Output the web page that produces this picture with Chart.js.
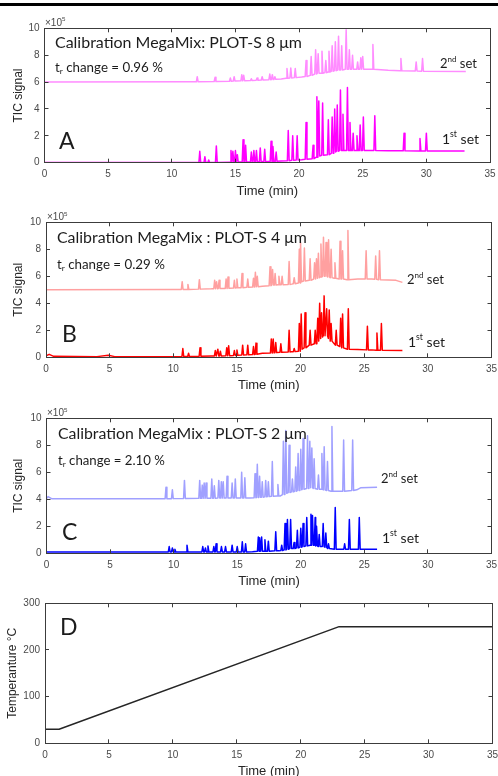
<!DOCTYPE html>
<html><head><meta charset="utf-8">
<script src="https://cdn.jsdelivr.net/npm/chart.js@4.4.1/dist/chart.umd.min.js"></script>
<style>
html,body{margin:0;padding:0;background:#fff;overflow:hidden;width:498px;height:776px;}
#topbar{position:absolute;left:0;top:3px;width:498px;height:3px;background:#000;}
canvas{position:absolute;left:0;}
</style></head><body>
<div id="topbar"></div>
<canvas id="cA"></canvas><canvas id="cB"></canvas><canvas id="cC"></canvas><canvas id="cD"></canvas>
<script>
// ---------- tick labels ----------
const timeTicks = [0, 5, 10, 15, 20, 25, 30, 35];
const ticTicks = [0, 2, 4, 6, 8, 10];          // x10^5
const tempTicks = [0, 100, 200, 300];

// ---------- Panel A (PLOT-S 8 um) ----------  [time, apex, foot]
const a2Baseline = [[0,6.0],[11.5,6.02],[18.6,6.22],[20.2,6.38],[25.4,6.95],[27,6.88],[33.1,6.78]];
const a2Peaks = [[12.0,6.4,6.02],[13.4,6.35,6.04],[14.6,6.3,6.06],[14.9,6.4,6.07],[15.5,6.55,6.09],[15.65,6.5,6.1],
  [16.25,6.25,6.11],[16.7,6.3,6.13],[17.1,6.4,6.15],[17.7,6.6,6.18],[17.9,6.55,6.19],[18.1,6.4,6.2],
  [19.05,7.0,6.28],[19.35,7.05,6.3],[19.7,7.0,6.33],[20.55,7.6,6.42],[20.95,7.9,6.5],[21.3,8.4,6.6],
  [21.5,8.1,6.65],[21.8,8.3,6.65],[22.1,7.6,6.7],[22.35,8.3,6.75],[22.6,8.7,6.8],[22.85,9.0,6.85],
  [23.1,9.4,6.9],[23.35,8.7,6.9],[23.7,9.9,6.95],[23.95,8.4,6.95],[24.2,8.0,6.95],[24.6,7.5,6.95],
  [24.85,7.8,6.95],[25.0,7.9,6.95],[25.8,8.8,6.95],[28.0,7.75,6.85],[29.2,7.5,6.82],[29.7,7.75,6.8]];
const a1Baseline = [[0,0.02],[11.5,0.02],[16.1,0.06],[18.6,0.12],[20.2,0.22],[25.5,0.9],[27,0.88],[33,0.87]];
const a1Peaks = [[12.2,0.85,0.02],[12.6,0.45,0.02],[12.9,0.2,0.02],[13.5,1.25,0.02],[14.65,0.9,0.03],[14.8,0.85,0.05],
  [15.0,0.9,0.05],[15.15,0.6,0.05],[15.6,1.7,0.05],[15.8,1.3,0.06],[16.25,0.8,0.06],[16.45,0.9,0.07],
  [16.65,0.9,0.07],[16.95,1.1,0.08],[17.3,1.0,0.08],[17.8,1.6,0.1],[17.95,1.2,0.1],[18.2,0.8,0.1],
  [19.15,2.4,0.15],[19.5,2.0,0.18],[19.85,2.0,0.2],[20.55,3.0,0.25],[21.1,1.3,0.3],[21.4,4.9,0.4],
  [21.55,4.6,0.5],[21.85,4.45,0.55],[22.3,3.2,0.6],[22.6,3.4,0.7],[22.8,4.0,0.8],[23.0,4.3,0.85],
  [23.25,5.4,0.9],[23.45,3.6,0.9],[23.8,5.6,0.9],[24.0,3.0,0.9],[24.25,2.2,0.9],[24.55,2.0,0.9],
  [24.8,2.8,0.9],[25.05,3.4,0.9],[25.95,3.5,0.9],[28.25,2.2,0.88],[29.5,1.8,0.87],[30.0,2.2,0.87]];

// ---------- Panel B (PLOT-S 4 um) ----------
const b2Baseline = [[0,5.0],[10,5.02],[13,5.07],[17,5.27],[19.3,5.42],[24.5,5.8],[25.6,5.8],[27.5,5.7],[28,5.55]];
const b2Peaks = [[10.7,5.6,5.02],[11.15,5.4,5.03],[12.05,5.75,5.05],[13.25,5.7,5.08],[13.4,5.6,5.08],[13.6,5.7,5.1],
  [14.15,5.8,5.1],[14.3,5.95,5.12],[14.8,5.7,5.13],[15.0,5.8,5.15],[15.4,6.2,5.16],[15.85,5.8,5.18],
  [16.3,5.85,5.2],[16.45,6.3,5.22],[16.6,6.0,5.23],[17.6,6.7,5.3],[17.8,6.5,5.35],[18.0,6.2,5.35],
  [18.3,6.0,5.37],[18.55,6.0,5.38],[19.1,7.1,5.4],[19.5,5.9,5.45],[19.9,8.0,5.5],[20.0,8.5,5.6],
  [20.3,8.1,5.65],[20.75,7.3,5.7],[21.1,7.0,5.8],[21.25,7.3,5.85],[21.4,7.7,5.9],[21.6,8.4,5.95],
  [21.8,8.9,6.0],[22.0,8.5,6.0],[22.2,8.7,5.95],[22.4,8.0,5.9],[22.7,7.0,5.85],[23.1,8.6,5.8],
  [23.3,7.9,5.8],[23.72,9.4,5.75],[25.15,7.9,5.8],[25.9,7.5,5.78],[26.2,7.9,5.75]];
const b1Baseline = [[0,0.1],[0.25,0.22],[0.6,0.07],[4.0,0.05],[4.9,0.15],[5.4,0.05],[10,0.05],[13,0.1],[17,0.3],
  [19.3,0.42],[24.5,0.58],[25.6,0.55],[28,0.5]];
const b1Peaks = [[10.75,0.65,0.06],[11.2,0.3,0.06],[12.1,0.7,0.08],[13.3,0.5,0.1],[13.5,0.6,0.1],[13.7,0.45,0.1],
  [14.2,0.7,0.12],[14.35,0.85,0.12],[14.8,0.5,0.14],[15.0,0.55,0.15],[15.45,0.9,0.17],[15.85,0.9,0.18],
  [16.3,0.8,0.2],[16.5,1.05,0.22],[17.7,1.35,0.32],[17.85,1.35,0.33],[18.05,1.1,0.35],[18.45,1.0,0.37],
  [19.1,2.0,0.4],[19.5,0.65,0.42],[19.9,2.5,0.45],[20.05,3.2,0.6],[20.35,3.3,0.7],[20.75,2.0,0.9],
  [21.15,2.0,1.0],[21.35,2.9,1.2],[21.5,4.0,1.4],[21.65,3.3,1.5],[21.85,4.55,1.6],[22.05,3.6,1.6],
  [22.25,3.5,1.4],[22.4,2.5,1.2],[22.8,2.0,0.9],[23.15,2.9,0.8],[23.3,3.2,0.7],[23.75,3.6,0.6],
  [25.25,2.3,0.55],[26.0,1.8,0.52],[26.35,2.5,0.52]];

// ---------- Panel C (PLOT-S 2 um) ----------
const c2Baseline = [[0,4.05],[0.12,4.2],[0.4,4.05],[9,4.05],[16,4.1],[18.4,4.25],[24.4,4.7],[24.7,4.85],[26,4.9]];
const c2Peaks = [[9.4,4.9,4.05],[9.9,4.7,4.05],[10.85,5.4,4.06],[12.05,5.4,4.07],[12.25,5.05,4.07],[12.4,5.2,4.07],
  [12.55,5.2,4.08],[13.0,5.5,4.08],[13.2,5.0,4.08],[13.55,5.4,4.09],[13.75,5.3,4.09],[13.9,5.3,4.09],
  [14.2,5.7,4.1],[14.6,5.2,4.1],[14.85,5.5,4.1],[15.35,6.0,4.1],[15.6,5.6,4.1],[16.4,5.9,4.12],
  [16.58,6.6,4.13],[16.76,5.7,4.15],[16.97,5.3,4.16],[17.24,5.4,4.18],[17.45,5.3,4.2],[17.76,6.8,4.22],
  [18.2,5.1,4.24],[18.63,8.3,4.35],[18.82,9.1,4.45],[19.08,8.0,4.5],[19.34,5.5,4.55],[19.6,6.4,4.6],
  [19.79,7.4,4.65],[20.0,7.7,4.7],[20.18,8.5,4.75],[20.53,8.7,4.8],[20.71,8.3,4.85],[20.87,7.8,4.85],
  [21.05,7.0,4.8],[21.39,5.8,4.75],[21.66,7.4,4.75],[21.84,7.9,4.7],[22.1,6.8,4.65],[22.45,9.4,4.6],
  [23.37,8.4,4.6],[24.08,8.4,4.65]];
const c1Baseline = [[0,0.1],[9.4,0.1],[16.2,0.12],[18.3,0.18],[24.9,0.3],[26,0.3]];
const c1Peaks = [[9.65,0.5,0.1],[9.9,0.4,0.1],[10.1,0.3,0.1],[11.05,0.6,0.1],[12.29,0.5,0.1],[12.5,0.4,0.1],
  [12.7,0.55,0.1],[13.16,0.5,0.1],[13.34,0.7,0.1],[13.76,0.5,0.1],[14.08,0.5,0.1],[14.6,0.6,0.1],
  [15.0,0.5,0.1],[15.4,0.85,0.1],[15.66,0.7,0.1],[16.66,1.2,0.15],[16.79,1.15,0.15],[16.92,1.2,0.15],
  [17.18,1.0,0.15],[17.45,0.9,0.15],[18.03,1.6,0.18],[18.5,0.6,0.2],[18.76,2.2,0.25],[18.95,2.5,0.3],
  [19.2,2.5,0.35],[19.47,0.8,0.35],[19.73,1.7,0.4],[20.0,1.85,0.45],[20.18,2.2,0.5],[20.47,2.65,0.55],
  [20.8,2.9,0.6],[20.92,2.8,0.6],[21.13,2.65,0.6],[21.24,2.0,0.55],[21.45,1.4,0.5],[21.76,2.2,0.5],
  [21.97,1.5,0.45],[22.18,0.7,0.35],[22.71,3.4,0.3],[23.45,0.7,0.3],[23.82,2.5,0.3],[24.6,2.65,0.3]];

// ---------- Panel D (oven temperature) ----------
const tempTime = [0, 1.1, 23, 35];
const tempValue = [30, 30, 250, 250];

// ---------- helpers ----------
const HW = 0.07;
function buildSeries(baseline, peaks) {
  const pts = baseline.map(([x, y]) => ({x, y}));
  for (const [t, h, f] of peaks) pts.push({x: t - HW, y: f}, {x: t, y: h}, {x: t + HW, y: f});
  pts.sort((a, b) => a.x - b.x);
  return pts;
}
const AX = '"Liberation Sans", Arial, sans-serif';
const TX = 'Lato, "Open Sans", sans-serif';
const FRAME = '#3c3c3c';

function drawRich(ctx, it, top) {
  const fam = it.family || TX;
  let size = it.size;
  const w = s => { let t = 0; for (const [str, m] of it.parts) { ctx.font = (m ? s * 0.62 : s) + 'px ' + fam; t += ctx.measureText(str).width; } return t; };
  if (it.width) size = size * it.width / w(size);
  let x = it.x; const y = it.y - top;
  ctx.textBaseline = 'middle'; ctx.textAlign = 'left'; ctx.fillStyle = it.color || '#1c1c1c';
  for (const [str, m] of it.parts) {
    const fs = m ? size * 0.62 : size;
    ctx.font = fs + 'px ' + fam;
    const dy = m === 'sup' ? -size * 0.33 : (m === 'sub' ? size * 0.28 : 0);
    ctx.fillText(str, x, y + dy);
    x += ctx.measureText(str).width;
  }
}

const decor = {
  id: 'decor',
  afterDraw(chart, args, opts) {
    const ctx = chart.ctx;
    ctx.save();
    for (const it of (opts.texts || [])) drawRich(ctx, it, opts.top);
    ctx.restore();
  }
};

function noPad(s) { s.paddingLeft = 0; s.paddingRight = 0; s.paddingTop = 0; s.paddingBottom = 0; }

function makeChart(id, g, datasets, yTicks, yTitle, yTitlePad, texts) {
  const cv = document.getElementById(id);
  cv.width = 498; cv.height = g.h; cv.style.top = g.top + 'px';
  cv.style.width = '498px'; cv.style.height = g.h + 'px';
  const xh = g.top + g.h - g.bottom;
  const yMin = yTicks[0], yMax = yTicks[yTicks.length - 1];
  const frameBorder = {display: true, color: FRAME, width: 1, z: 1};
  const inTicks = {display: true, drawOnChartArea: false, drawTicks: true, tickLength: -4,
                   color: FRAME, tickColor: FRAME, tickWidth: 1, z: 1};
  const xt = s => { s.ticks = timeTicks.map(v => ({value: v})); };
  const yt = s => { s.ticks = yTicks.map(v => ({value: v})); };
  return new Chart(cv, {
    type: 'line',
    data: {datasets},
    options: {
      responsive: false, animation: false, devicePixelRatio: 1,
      layout: {padding: {left: 0, right: 498 - g.right, top: g.ytop - g.top, bottom: 0}},
      elements: {point: {radius: 0}, line: {tension: 0, borderJoinStyle: 'round'}},
      plugins: {legend: {display: false}, tooltip: {enabled: false}, decor: {texts, top: g.top}},
      scales: {
        x: {type: 'linear', min: 0, max: 35, afterBuildTicks: xt,
          afterFit: s => { s.height = xh; noPad(s); },
          grid: inTicks, border: frameBorder,
          ticks: {color: '#4a4a4a', font: {family: AX, size: 10}, padding: 9.5, maxRotation: 0, autoSkip: false},
          title: {display: true, text: 'Time (min)', color: '#262626', font: {family: AX, size: 13}, padding: {top: 0, bottom: 0}}},
        x2: {type: 'linear', position: 'top', min: 0, max: 35, display: true, afterBuildTicks: xt,
          afterFit: s => { s.height = 0; noPad(s); },
          grid: inTicks, border: frameBorder, ticks: {display: false}},
        y: {type: 'linear', min: yMin, max: yMax, afterBuildTicks: yt,
          afterFit: s => { s.width = g.left; noPad(s); },
          grid: inTicks, border: frameBorder,
          ticks: {color: '#4a4a4a', font: {family: AX, size: 10}, padding: 9},
          title: {display: true, text: yTitle, color: '#262626', font: {family: AX, size: 12}, padding: {top: yTitlePad, bottom: 0}}},
        y2: {type: 'linear', position: 'right', min: yMin, max: yMax, display: true, afterBuildTicks: yt,
          afterFit: s => { s.width = 0; noPad(s); },
          grid: inTicks, border: frameBorder, ticks: {display: false}}
      }
    },
    plugins: [decor]
  });
}
function ds(data, color, w) {
  return {data, borderColor: color, borderWidth: w || 1.5, fill: false, pointRadius: 0};
}
function setLabel(x, y, ord) {
  return {x, y, size: 12, width: 37, parts: [[ord[0], 0], [ord[1], 'sup'], [' set', 0]]};
}
function exp10(x, y) {
  return {x, y, size: 10, family: AX, color: '#4a4a4a', parts: [['\u00d710', 0], ['5', 'sup']]};
}

// Panel A
makeChart('cA', {top: 0, h: 199, ytop: 28.3, bottom: 162.7, left: 44.5, right: 490},
  [ds(buildSeries(a2Baseline, a2Peaks), '#ff8cff'), ds(buildSeries(a1Baseline, a1Peaks), '#ff00ff')],
  ticTicks, 'TIC signal', 11,
  [{x: 55, y: 43, size: 16, width: 247, parts: [['Calibration MegaMix: PLOT-S 8 \u03bcm', 0]]},
   {x: 55, y: 68, size: 12, width: 108, parts: [['t', 0], ['r', 'sub'], [' change = 0.96 %', 0]]},
   {x: 59, y: 142, size: 23, parts: [['A', 0]]},
   setLabel(440, 64, ['2', 'nd']), setLabel(442, 139, ['1', 'st']), exp10(45, 23)]);

// Panel B
makeChart('cB', {top: 199, h: 194, ytop: 222.3, bottom: 357.3, left: 46, right: 491.5},
  [ds(buildSeries(b2Baseline, b2Peaks), '#ffa0a0'), ds(buildSeries(b1Baseline, b1Peaks), '#ff0000')],
  ticTicks, 'TIC signal', 11,
  [{x: 57, y: 238, size: 16, width: 250, parts: [['Calibration MegaMix : PLOT-S 4 \u03bcm', 0]]},
   {x: 57, y: 265, size: 12, width: 108, parts: [['t', 0], ['r', 'sub'], [' change = 0.29 %', 0]]},
   {x: 62, y: 335, size: 23, parts: [['B', 0]]},
   setLabel(407, 280, ['2', 'nd']), setLabel(408, 342, ['1', 'st']), exp10(47, 217.5)]);

// Panel C
makeChart('cC', {top: 394, h: 195, ytop: 418.3, bottom: 553.3, left: 46.5, right: 491.5},
  [ds(buildSeries(c2Baseline, c2Peaks), '#a0a0ff'), ds(buildSeries(c1Baseline, c1Peaks), '#0000ff')],
  ticTicks, 'TIC signal', 11,
  [{x: 58, y: 434, size: 16, width: 249, parts: [['Calibration MegaMix : PLOT-S 2 \u03bcm', 0]]},
   {x: 58, y: 461, size: 12, width: 107, parts: [['t', 0], ['r', 'sub'], [' change = 2.10 %', 0]]},
   {x: 62, y: 533, size: 23, parts: [['C', 0]]},
   setLabel(381, 479, ['2', 'nd']), setLabel(382, 538, ['1', 'st']), exp10(47, 413.5)]);

// Panel D
makeChart('cD', {top: 589, h: 190, ytop: 603.3, bottom: 743.3, left: 45, right: 492.5},
  [ds(tempTime.map((t, i) => ({x: t, y: tempValue[i]})), '#262626', 1.5)],
  tempTicks, 'Temperanture \u00b0C', 5,
  [{x: 60, y: 628, size: 23, parts: [['D', 0]]}]);
</script>
</body></html>
